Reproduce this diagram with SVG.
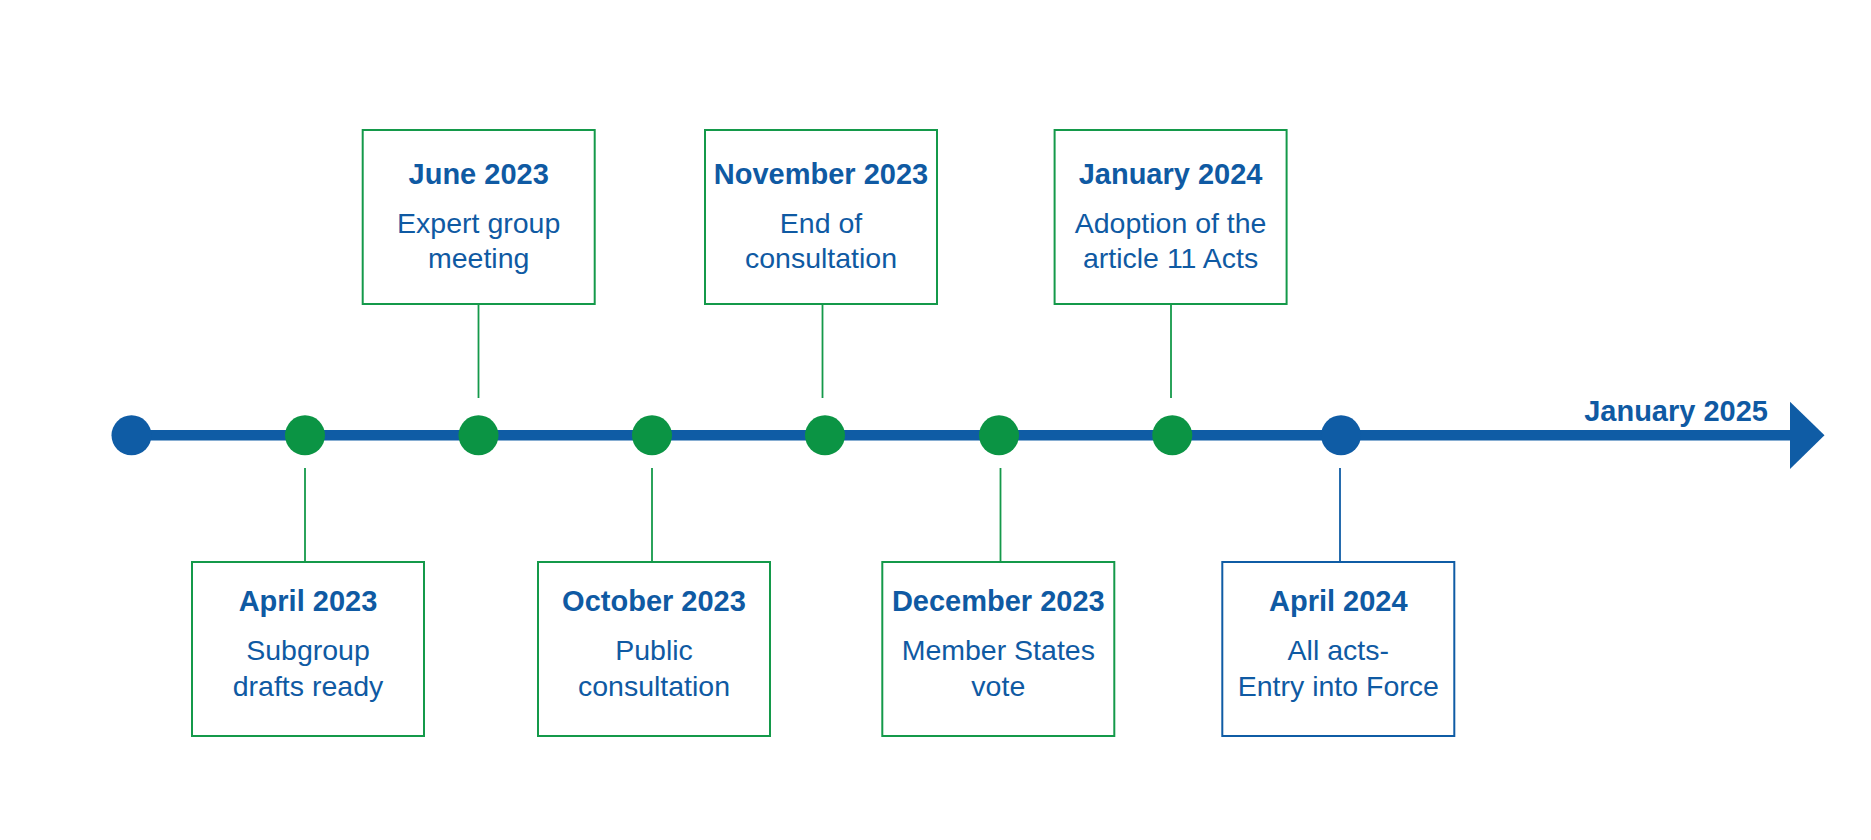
<svg xmlns="http://www.w3.org/2000/svg" width="1871" height="840" viewBox="0 0 1871 840">
<style>
.bg{fill:#ffffff}
.box{fill:#ffffff;stroke-width:2}
.g{stroke:#14994a}
.b{stroke:#0f5ca5}
.conn{stroke-width:1.8;fill:none}
.t{font-family:"Liberation Sans",Arial,sans-serif;fill:#0f5aa3;text-anchor:middle}
.title{font-weight:bold;font-size:29px}
.body{font-size:28.5px}
.dotg{fill:#0b9444}
.dotb{fill:#0f5ca5}
</style>
<rect class="bg" x="0" y="0" width="1871" height="840"/>
<g id="timeline">
  <line x1="131.5" y1="435.3" x2="1792" y2="435.3" stroke="#0f5ca5" stroke-width="10.5"/>
  <polygon points="1790,401.7 1824.5,435.3 1790,469" fill="#0f5ca5"/>
  <text class="t title" x="1768" y="420.7" style="text-anchor:end">January 2025</text>
</g>
<g id="connectors">
  <line class="conn g" x1="305" y1="468" x2="305" y2="562"/>
  <line class="conn g" x1="478.5" y1="304" x2="478.5" y2="398"/>
  <line class="conn g" x1="652" y1="468" x2="652" y2="562"/>
  <line class="conn g" x1="822.5" y1="304" x2="822.5" y2="398"/>
  <line class="conn g" x1="1000.5" y1="468" x2="1000.5" y2="562"/>
  <line class="conn g" x1="1171" y1="304" x2="1171" y2="398"/>
  <line class="conn b" x1="1340" y1="468" x2="1340" y2="562"/>
</g>
<g id="dots">
  <circle id="dot-start" class="dotb" cx="131.5" cy="435.3" r="20"/>
  <circle class="dotg" cx="305" cy="435.3" r="20"/>
  <circle class="dotg" cx="478.5" cy="435.3" r="20"/>
  <circle class="dotg" cx="652" cy="435.3" r="20"/>
  <circle class="dotg" cx="825" cy="435.3" r="20"/>
  <circle class="dotg" cx="999" cy="435.3" r="20"/>
  <circle class="dotg" cx="1172.3" cy="435.3" r="20"/>
  <circle class="dotb" cx="1341" cy="435.3" r="20"/>
</g>
<g id="node-apr2023">
  <rect class="box g" x="192" y="562" width="232" height="174"/>
  <text class="t title" x="308" y="611">April 2023</text>
  <text class="t body" x="308" y="660">Subgroup</text>
  <text class="t body" x="308" y="695.5">drafts ready</text>
</g>
<g id="node-jun2023">
  <rect class="box g" x="362.7" y="130" width="232" height="174"/>
  <text class="t title" x="478.7" y="184">June 2023</text>
  <text class="t body" x="478.7" y="233">Expert group</text>
  <text class="t body" x="478.7" y="268">meeting</text>
</g>
<g id="node-oct2023">
  <rect class="box g" x="538" y="562" width="232" height="174"/>
  <text class="t title" x="654" y="611">October 2023</text>
  <text class="t body" x="654" y="660">Public</text>
  <text class="t body" x="654" y="695.5">consultation</text>
</g>
<g id="node-nov2023">
  <rect class="box g" x="705" y="130" width="232" height="174"/>
  <text class="t title" x="821" y="184">November 2023</text>
  <text class="t body" x="821" y="233">End of</text>
  <text class="t body" x="821" y="268">consultation</text>
</g>
<g id="node-dec2023">
  <rect class="box g" x="882.3" y="562" width="232" height="174"/>
  <text class="t title" x="998.3" y="611">December 2023</text>
  <text class="t body" x="998.3" y="660">Member States</text>
  <text class="t body" x="998.3" y="695.5">vote</text>
</g>
<g id="node-jan2024">
  <rect class="box g" x="1054.6" y="130" width="232" height="174"/>
  <text class="t title" x="1170.6" y="184">January 2024</text>
  <text class="t body" x="1170.6" y="233">Adoption of the</text>
  <text class="t body" x="1170.6" y="268">article 11 Acts</text>
</g>
<g id="node-apr2024">
  <rect class="box b" x="1222.3" y="562" width="232" height="174"/>
  <text class="t title" x="1338.3" y="611">April 2024</text>
  <text class="t body" x="1338.3" y="660">All acts-</text>
  <text class="t body" x="1338.3" y="695.5">Entry into Force</text>
</g>
</svg>
